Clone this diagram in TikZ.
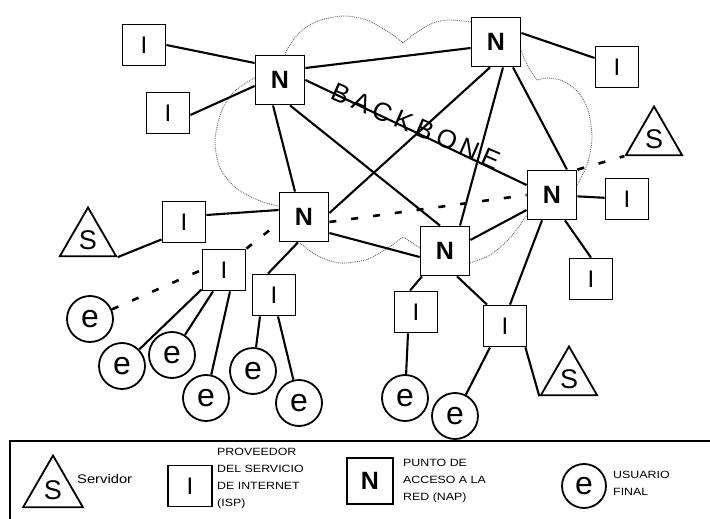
\documentclass[tikz,border=0pt]{standalone}
\usepackage{fontspec}
\setmainfont{Liberation Sans}
\newfontfamily\legendfont[FakeStretch=1.18]{Liberation Sans}
\newfontfamily\spinefont[LetterSpace=20]{Liberation Sans}
\usetikzlibrary{shapes.geometric}

\begin{document}
\begin{tikzpicture}[x=1pt,y=-1pt,
  link/.style={line width=2.1pt},
  route/.style={line width=2.6pt, dash pattern=on 7pt off 15pt},
  cloudline/.style={black!60, line width=0.9pt, densely dotted},
  isp/.style={draw, fill=white, line width=1.8pt, minimum width=43pt, minimum height=41pt, inner sep=0pt, font=\fontsize{24}{24}\selectfont},
  nap/.style={draw, fill=white, line width=1.8pt, minimum size=49pt, inner sep=0pt, font=\fontsize{25}{25}\selectfont\bfseries},
  srv/.style={draw, fill=white, line width=1.8pt, regular polygon, regular polygon sides=3, minimum size=65pt, inner sep=0pt, font=\fontsize{27}{27}\selectfont},
  usr/.style={draw, fill=white, circle, line width=1.8pt, minimum size=46pt, inner sep=0pt, font=\fontsize{32}{32}\selectfont},
  legtext/.style={font=\legendfont\fontsize{10.5}{17}\selectfont, align=left, inner sep=0pt, anchor=west}
]
\useasboundingbox (0,0) rectangle (710,519);
\fill[white] (0,0) rectangle (710,519);

% backbone cloud outline
\draw[cloudline] plot[smooth] coordinates {(258,76) (236,90) (222,110) (215,140) (220,168) (236,188) (260,201) (282,207)};
\draw[cloudline] plot[smooth] coordinates {(300,243) (318,256) (340,263) (365,260) (385,250) (403,237)} -- (420,248);
\draw[cloudline] plot[smooth] coordinates {(470,263) (490,255) (508,240) (520,225) (527,215)};
\draw[cloudline] plot[smooth] coordinates {(577,185) (587,165) (592,138) (588,110) (578,92) (563,81) (548,78) (537,80)};
\draw[cloudline] plot[smooth] coordinates {(537,80) (530,70) (524,58) (521,50)};
\draw[cloudline] plot[smooth] coordinates {(471,22) (450,20) (433,23) (417,32) (403,43)};
\draw[cloudline] plot[smooth] coordinates {(403,43) (390,33) (367,20) (343,16) (318,21) (300,32) (288,48) (285,55)};

% backbone label
\node[rotate=-23.5, inner sep=0pt, font=\spinefont\fontsize{26}{26}\selectfont] (bb) at (416,126) {BACKBONE};

% network access points
\node[nap] (N1) at (280,80) {N};
\node[nap] (N2) at (496,42) {N};
\node[nap] (N3) at (552,195) {N};
\node[nap] (N4) at (445,251) {N};
\node[nap] (N5) at (304,217) {N};

% internet service providers
\node[isp] (I1) at (144,45) {I};
\node[isp] (I2) at (168,113) {I};
\node[isp] (I3) at (617,67) {I};
\node[isp] (I4) at (627,199) {I};
\node[isp] (I5) at (591,279) {I};
\node[isp] (I6) at (184,222) {I};
\node[isp] (I7) at (224,270) {I};
\node[isp] (I8) at (274,295) {I};
\node[isp] (I9) at (416,312) {I};
\node[isp] (I10) at (505,326) {I};

% servers
\node[srv] (S1) at (88,240) {S};
\node[srv] (S2) at (654,139) {S};
\node[srv] (S3) at (569,379) {S};

% end users
\node[usr] (e1) at (90,319) {e};
\node[usr] (e2) at (122,366) {e};
\node[usr] (e3) at (172,355) {e};
\node[usr] (e4) at (206,398) {e};
\node[usr] (e5) at (253,371) {e};
\node[usr] (e6) at (299,403) {e};
\node[usr] (e7) at (405,398) {e};
\node[usr] (e8) at (455,416) {e};

% links
\draw[link] (I1.east) -- ([yshift=17pt]N1.west);
\draw[link] ([yshift=-2pt]I2.east) -- ([yshift=-6pt]N1.west);
\draw[link] ([yshift=12pt]N1.east) -- ([yshift=-6pt]N2.west);
\draw[link] ([xshift=-7pt]N1.south) -- ([xshift=-9pt]N5.north);
\draw[link] ([xshift=10pt]N1.south) -- ([xshift=-5pt]N4.north);
\draw[link] (N1.east) -- ([yshift=10pt]N3.west);
\draw[link] ([yshift=9pt]N2.east) -- ([yshift=9pt]I3.west);
\draw[link] ([xshift=-6pt]N2.south) -- ([yshift=4pt]N5.east);
\draw[link] ([xshift=7pt]N2.south) -- ([xshift=15pt]N4.north);
\draw[link] ([xshift=17pt]N2.south) -- ([xshift=15pt]N3.north);
\draw[link] (N3) -- (I4);
\draw[link] ([xshift=13pt]N3.south) -- (I5.north);
\draw[link] ([xshift=-10pt]N3.south) -- ([xshift=5pt]I10.north);
\draw[link] ([yshift=-15pt]N3.west) -- ([yshift=11pt]N4.east);
\draw[link] ([yshift=-16pt]N5.east) -- ([yshift=-6pt]N4.west);
\draw[link] ([yshift=7pt]I6.east) -- ([yshift=7pt]N5.west);
\draw[link] ([yshift=4pt]I6.south west) -- (S1.corner 3);
\draw[link] ([xshift=-6pt]N5.south) -- ([xshift=-6pt]I8.north);
\draw[link] ([xshift=-23pt]N4.south) -- ([xshift=-6pt]I9.north);
\draw[link] ([xshift=12pt]N4.south) -- ([xshift=-18pt]I10.north);
\draw[link] ([xshift=-8pt]I9.south) -- (e7);
\draw[link] ([xshift=-15pt]I10.south) -- (e8);
\draw[link] ([xshift=-2pt]I10.south east) -- (S3.corner 2);
\draw[link] ([yshift=2pt]I7.south west) -- (e2);
\draw[link] ([xshift=-11pt]I7.south) -- (e3);
\draw[link] ([xshift=6pt]I7.south) -- (e4);
\draw[link] ([xshift=-14pt]I8.south) -- (e5);
\draw[link] ([xshift=4pt]I8.south) -- (e6);

% path from an end user to a server
\draw[route] (e1) -- (I7.west);
\draw[route] (I7.north east) -- ([yshift=-6pt]N5.west);
\draw[route] ([yshift=-5pt]N5.east) -- (N3.west);
\draw[route] (N3.north east) -- (S2.corner 2);

% legend
\draw[line width=2pt] (10,530) -- (10,441) -- (720,441);
\node[srv, minimum size=69pt] (LS) at (53,490) {S};
\node[legtext, font=\legendfont\fontsize{12.5}{14}\selectfont] (LSt) at (77,479) {Servidor};
\node[isp, minimum width=44pt, minimum height=41pt] (LI) at (190,486) {I};
\node[legtext] (LIt) at (217,478) {PROVEEDOR\\DEL SERVICIO\\DE INTERNET\\(ISP)};
\node[nap, minimum size=46pt] (LN) at (370,481) {N};
\node[legtext] (LNt) at (403,481) {PUNTO DE\\ACCESO A LA\\RED (NAP)};
\node[usr, minimum size=44pt] (Le) at (584,486) {e};
\node[legtext] (Let) at (613,483) {USUARIO\\FINAL};
\end{tikzpicture}
\end{document}
